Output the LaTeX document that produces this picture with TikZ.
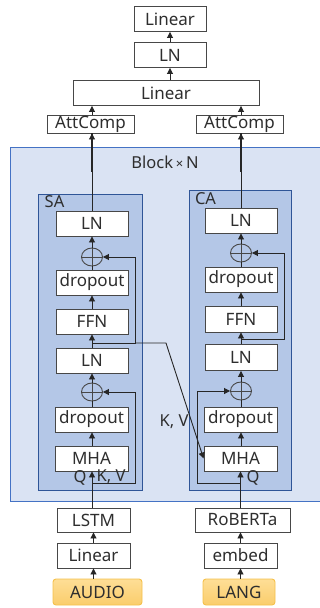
\documentclass[tikz,border=0pt]{standalone}
\usepackage{fontspec}
\setmainfont{Noto Sans}
\usetikzlibrary{arrows.meta,shapes.geometric}
\definecolor{txt}{HTML}{2E2E2E}
\definecolor{ln}{HTML}{262626}
\definecolor{blockfill}{HTML}{DAE3F3}
\definecolor{blockdraw}{HTML}{4472C4}
\definecolor{subfill}{HTML}{B4C7E7}
\definecolor{subdraw}{HTML}{2F5597}
\definecolor{inA}{HTML}{FEDE96}
\definecolor{inB}{HTML}{FACD6C}
\definecolor{inD}{HTML}{F5C04A}
\tikzset{
  lay/.style={draw=ln!85, fill=white, line width=0.9pt, inner sep=0pt, minimum width=72pt, minimum height=25pt, text=txt, font=\fontsize{17}{18}\selectfont},
  inbox/.style={draw=inD, top color=inA, bottom color=inB, rounded corners=3pt, line width=0.9pt, inner sep=0pt, minimum width=72pt, minimum height=26pt, text=txt, font=\fontsize{17}{18}\selectfont},
  oplus/.style={ellipse, draw=ln!85, line width=0.9pt, minimum width=21pt, minimum height=18pt, inner sep=0pt,
    path picture={\draw[ln!85, line width=0.9pt] (path picture bounding box.north) -- (path picture bounding box.south)
      (path picture bounding box.west) -- (path picture bounding box.east);}},
  arr/.style={draw=ln, line width=0.9pt, -{Triangle[width=6pt,length=6pt]}},
  pl/.style={draw=ln, line width=0.9pt},
  lbl/.style={text=txt, inner sep=0pt, font=\fontsize{16.5}{18}\selectfont},
}
\begin{document}
\begin{tikzpicture}[x=1pt,y=-1pt]
\useasboundingbox (0,0) rectangle (320,608);
% containers
\path[fill=blockfill, draw=blockdraw, line width=0.9pt] (10,147) rectangle (330,501);
\node[lbl] (blk) at (165,162) {Block\,{\fontsize{13}{14}\selectfont ×}\,N};
\path[fill=subfill, draw=subdraw, line width=0.9pt] (38,194) rectangle (142,490);
\path[fill=subfill, draw=subdraw, line width=0.9pt] (189,190) rectangle (291,490);
\node[lbl] (salbl) at (54.5,202) {SA};
\node[lbl] (calbl) at (205.5,199) {CA};
% top stack
\node[lay] (lin3) at (170,19) {Linear};
\node[lay] (ln3) at (170,55) {LN};
\node[lay, minimum width=186pt] (lin2) at (166,93) {Linear};
\node[lay, minimum width=87pt, minimum height=18pt] (attL) at (90.5,124) {AttComp};
\node[lay, minimum width=87pt, minimum height=18pt] (attR) at (239.5,124) {AttComp};
% SA column
\node[lay] (saLN) at (92,223.5) {LN};
\node[oplus] (saP1) at (92,257) {};
\node[lay] (saDrop) at (92,282.5) {dropout};
\node[lay] (saFFN) at (92,321.5) {FFN};
\node[lay] (saLN2) at (92,360.5) {LN};
\node[oplus] (saP2) at (92,392) {};
\node[lay, minimum width=73pt] (saDrop2) at (91.5,419.5) {dropout};
\node[lay, minimum width=73pt] (saMHA) at (91.5,458.5) {MHA};
\node[lay, minimum width=73pt, minimum height=24pt] (lstm) at (93.5,520) {LSTM};
\node[lay, minimum width=73pt] (linA) at (93.5,555.5) {Linear};
\node[inbox, minimum width=89pt] (audio) at (97.5,592) {AUDIO};
% CA column
\node[lay] (caLN) at (241,220.5) {LN};
\node[oplus] (caP1) at (241,253) {};
\node[lay] (caDrop) at (241,279.5) {dropout};
\node[lay, minimum height=26pt] (caFFN) at (241,319) {FFN};
\node[lay, minimum height=26pt] (caLN2) at (241,357.5) {LN};
\node[oplus] (caP2) at (241,391) {};
\node[lay, minimum width=73pt] (caDrop2) at (240.5,419.5) {dropout};
\node[lay, minimum width=73pt] (caMHA) at (240.5,458.5) {MHA};
\node[lay, minimum width=95pt, minimum height=24pt] (rob) at (242.5,520) {RoBERTa};
\node[lay, minimum width=73pt] (emb) at (240.5,555.5) {embed};
\node[inbox] (lang) at (239,592) {LANG};
% labels
\node[lbl] (qsa) at (80,478) {Q};
\node[lbl] (kvsa) at (111,477) {K, V};
\node[lbl] (qca) at (253,478) {Q};
\node[lbl] (kvca) at (174,422) {K, V};
% coordinates
\coordinate (saIn) at (92,483);
\coordinate (saMid) at (92,343);
\coordinate (caIn) at (240.5,483);
\coordinate (caMid) at (241,339);
% top connectors
\draw[arr] (saLN.north) -- (saLN.north |- attL.south);
\draw[line width=1.8pt, draw=ln] (92,133) -- (92,172);
\draw[arr] (caLN.north) -- (caLN.north |- attR.south);
\draw[line width=1.8pt, draw=ln] (241,133) -- (241,172);
\draw[arr] (attL.north -| saLN.north) -- (lin2.south -| saLN.north);
\draw[arr] (attR.north -| caLN.north) -- (lin2.south -| caLN.north);
\draw[arr] (lin2.north -| ln3) -- (ln3.south);
\draw[arr] (ln3.north) -- (lin3.south);
% SA internal
\draw[arr] (saP1.north) -- (saLN.south);
\draw[pl] (saDrop.north) -- (saP1.south);
\draw[arr] (saFFN.north) -- (saDrop.south);
\draw[arr] (saLN2.north) -- (saFFN.south);
\draw[arr] (saP2.north) -- (saLN2.south);
\draw[pl] (saDrop2.north -| saP2) -- (saP2.south);
\draw[arr] (saMHA.north -| saP2) -- (saDrop2.south -| saP2);
\draw[arr] (lstm.north -| saP2) -- (saMHA.south -| saP2);
\draw[arr] (saIn) -- (135,483) -- (135,392) -- (saP2.east);
\draw[arr] (saMid) -- (135,343) -- (135,257) -- (saP1.east);
\draw[arr] (135,343) -- (166,343) -- (caMHA.west);
% CA internal
\draw[arr] (caP1.north) -- (caLN.south);
\draw[pl] (caDrop.north) -- (caP1.south);
\draw[arr] (caFFN.north) -- (caDrop.south);
\draw[arr] (caLN2.north) -- (caFFN.south);
\draw[arr] (caP2.north) -- (caLN2.south);
\draw[pl] (caDrop2.north -| caP2) -- (caP2.south);
\draw[arr] (caMHA.north -| caP2) -- (caDrop2.south -| caP2);
\draw[arr] (rob.north -| caMHA) -- (caMHA.south);
\draw[arr] (caMid) -- (284,339) -- (284,253) -- (caP1.east);
\draw[arr] (caIn) -- (197,483) -- (197,391) -- (caP2.west);
% bottom
\draw[arr] (linA.north) -- (lstm.south);
\draw[arr] (audio.north -| linA) -- (linA.south);
\draw[arr] (emb.north) -- (rob.south -| emb);
\draw[arr] (lang.north -| emb) -- (emb.south);
\end{tikzpicture}
\end{document}
